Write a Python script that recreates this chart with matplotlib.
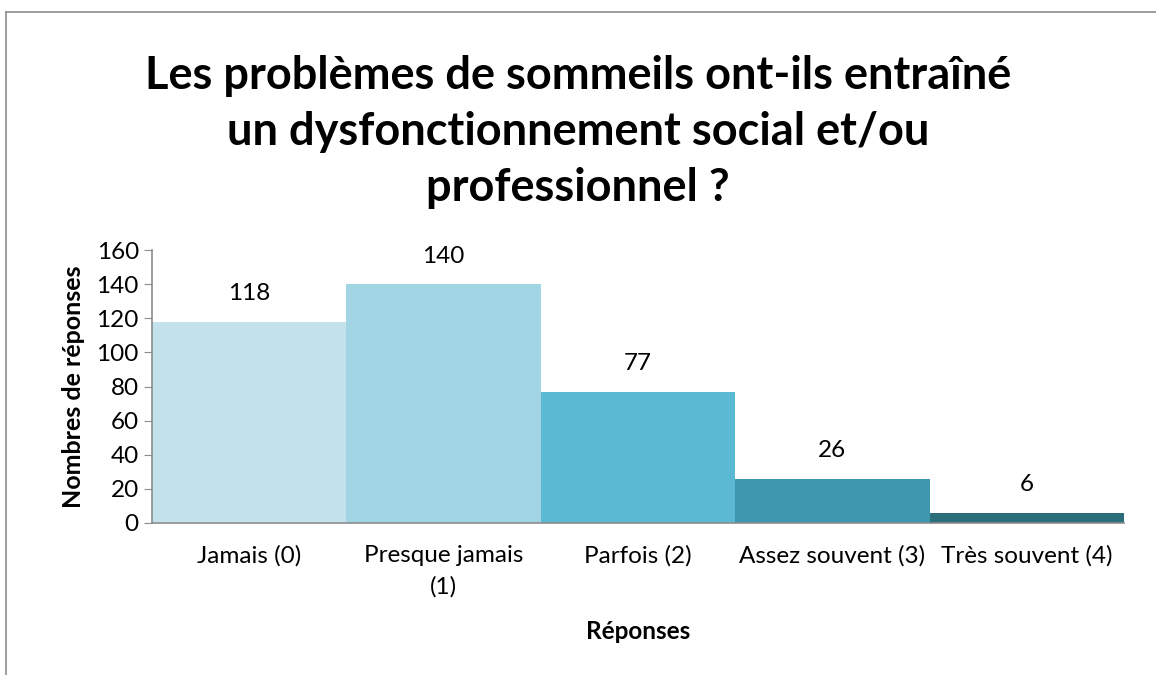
import matplotlib
matplotlib.use("Agg")
import matplotlib.pyplot as plt
from matplotlib.lines import Line2D

categories = ["Jamais (0)", "Presque jamais\n(1)", "Parfois (2)",
              "Assez souvent (3)", "Très souvent (4)"]
counts = [118, 140, 77, 26, 6]
colors = ["#C3E2EC", "#A2D5E3", "#5CB9D3", "#3E97AE", "#2C6D7C"]

plt.rcParams["font.family"] = ["Lato", "DejaVu Sans"]

fig = plt.figure(figsize=(11.56, 6.75), dpi=100)
ax = fig.add_axes([0.1315, 0.2252, 0.8408, 0.4044])

x = range(len(counts))
ax.bar(x, counts, width=1.0, color=colors, linewidth=0)
for xi, v in zip(x, counts):
    ax.annotate(str(v), (xi, v), xytext=(0, 20), textcoords="offset points",
                ha="center", va="center", fontsize=17.5)

ax.set_xlim(-0.5, 4.5)
ax.set_ylim(0, 160)
ax.set_yticks(range(0, 161, 20))
ax.set_xticks(list(x))
ax.set_xticklabels(categories, fontsize=17.5, linespacing=1.55)
ax.tick_params(axis="y", labelsize=17.5, length=6, color="#8c8c8c", direction="out")
ax.tick_params(axis="x", length=0, pad=16)
for s in ("top", "right"):
    ax.spines[s].set_visible(False)
for s in ("left", "bottom"):
    ax.spines[s].set_color("#8c8c8c")
    ax.spines[s].set_linewidth(1.2)

ax.set_ylabel("Nombres de réponses", fontsize=18, fontweight="bold", labelpad=8)
ax.set_xlabel("Réponses", fontsize=17.5, fontweight="bold", labelpad=16)

fig.text(0.50, 0.918, "Les problèmes de sommeils ont-ils entraîné\n"
         "un dysfonctionnement social et/ou\nprofessionnel ?",
         ha="center", va="top", fontsize=32.5, fontweight="bold", linespacing=1.4)

# outer chart frame (left and top edges visible)
fig.add_artist(Line2D([6 / 1156, 6 / 1156], [0, 1 - 12 / 675],
                      transform=fig.transFigure, color="#8c8c8c", lw=1.2))
fig.add_artist(Line2D([6 / 1156, 1], [1 - 12 / 675, 1 - 12 / 675],
                      transform=fig.transFigure, color="#8c8c8c", lw=1.2))

fig.savefig("out.png", dpi=100)
